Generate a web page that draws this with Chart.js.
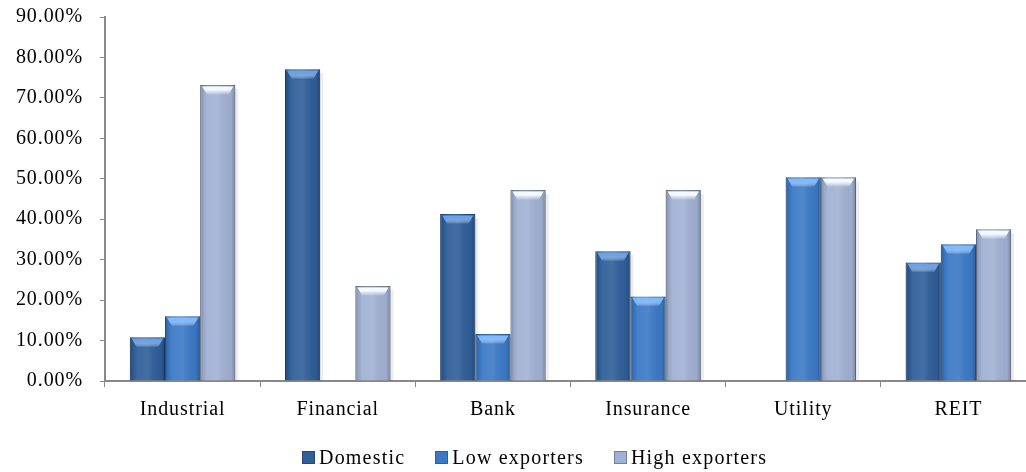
<!DOCTYPE html>
<html>
<head>
<meta charset="utf-8">
<script src="https://cdn.jsdelivr.net/npm/chart.js@4.4.0/dist/chart.umd.min.js"></script>
<style>
html, body { margin: 0; padding: 0; overflow: hidden; background: #fff; }
#wrap { position: relative; width: 1036px; height: 472px; }
#legend {
    position: absolute; left: 302px; top: 446px;
    display: flex; align-items: center;
    font-family: 'Liberation Serif', 'Times New Roman', serif;
    font-size: 20px; line-height: 22px; letter-spacing: 1.2px; color: #000;
}
#legend .item { display: flex; align-items: center; margin-right: 30px; }
#legend .box {
    width: 11px; height: 11px; margin-right: 4px;
    border: 1px solid; box-sizing: content-box;
}
</style>
</head>
<body>
<div id="wrap">
    <canvas id="exportChart"></canvas>
    <div id="legend"></div>
</div>
<script>
// values, in percent
const sectors = ['Industrial', 'Financial', 'Bank', 'Insurance', 'Utility', 'REIT'];
const domestic = [10.8, 77.1, 41.3, 32.1, null, 29.3];
const lowExporters = [16.0, null, 11.6, 20.9, 50.4, 33.8];
const highExporters = [73.2, 23.5, 47.2, 47.2, 50.4, 37.5];
const yMax = 90;
const yStep = 10;

const serif = "'Liberation Serif', 'Times New Roman', serif";

// wider letter spacing, like the original text
const spacingPlugin = {
    id: 'spacing',
    beforeLayout(chart) { chart.ctx.letterSpacing = '0.9px'; },
    beforeDraw(chart) { chart.ctx.letterSpacing = '0.9px'; }
};

function barBoxes(chart, cb) {
    chart.data.datasets.forEach((ds, i) => {
        chart.getDatasetMeta(i).data.forEach(bar => {
            const p = bar.getProps(['x', 'y', 'base', 'width'], true);
            if (!Number.isFinite(p.y) || p.base - p.y < 2) return;
            cb(ds, p.x - p.width / 2, p.x + p.width / 2, p.y, p.base);
        });
    });
}

// soft shadow behind, darker edges and a light bevel at the top of each bar
const bevelPlugin = {
    id: 'bevel',
    beforeDatasetsDraw(chart) {
        const ctx = chart.ctx;
        ctx.save();
        ctx.fillStyle = 'rgba(0,0,0,0.07)';
        barBoxes(chart, (ds, left, right, top, base) => {
            ctx.fillRect(left + 3, top + 4, right - left, base - top - 4);
        });
        ctx.restore();
    },
    afterDatasetsDraw(chart) {
        const ctx = chart.ctx;
        barBoxes(chart, (ds, left, right, top, base) => {
            const w = right - left;
            ctx.save();
            const g = ctx.createLinearGradient(left, 0, right, 0);
            g.addColorStop(0, 'rgba(0,0,0,0.22)');
            g.addColorStop(0.1, 'rgba(0,0,0,0.05)');
            g.addColorStop(0.2, 'rgba(255,255,255,0.06)');
            g.addColorStop(0.5, 'rgba(255,255,255,0.10)');
            g.addColorStop(0.88, 'rgba(0,0,0,0.03)');
            g.addColorStop(1, 'rgba(0,0,0,0.25)');
            ctx.fillStyle = g;
            ctx.fillRect(left, top, w, base - top);
            const v = ctx.createLinearGradient(0, top + 1, 0, top + 10);
            v.addColorStop(0, ds.bevel);
            v.addColorStop(0.4, ds.bevel);
            v.addColorStop(1, 'rgba(255,255,255,0)');
            ctx.beginPath();
            ctx.moveTo(left + 2, top + 1.5);
            ctx.lineTo(right - 2, top + 1.5);
            ctx.lineTo(right - 7, top + 10);
            ctx.lineTo(left + 7, top + 10);
            ctx.closePath();
            ctx.fillStyle = v;
            ctx.fill();
            ctx.restore();
        });
    }
};

const ctx = document.getElementById('exportChart').getContext('2d');
const chart = new Chart(ctx, {
    type: 'bar',
    data: {
        labels: sectors,
        datasets: [{
            label: 'Domestic',
            data: domestic,
            backgroundColor: '#2F5E99',
            borderColor: '#244A7C',
            bevel: 'rgba(110,165,235,0.95)'
        }, {
            label: 'Low exporters',
            data: lowExporters,
            backgroundColor: '#3B79C6',
            borderColor: '#2D5F9F',
            bevel: 'rgba(130,190,255,0.95)'
        }, {
            label: 'High exporters',
            data: highExporters,
            backgroundColor: '#A1B1D3',
            borderColor: '#75819B',
            bevel: 'rgba(245,250,255,1)'
        }]
    },
    options: {
        responsive: true,
        maintainAspectRatio: false,
        animation: false,
        layout: { padding: { top: 17, left: 12, right: 0, bottom: 30 } },
        datasets: {
            bar: {
                borderWidth: 1,
                categoryPercentage: 0.68,
                barPercentage: 1
            }
        },
        scales: {
            x: {
                grid: { drawOnChartArea: false, tickLength: 6, color: '#888888', lineWidth: 1 },
                border: { color: '#888888', width: 2 },
                ticks: { color: '#000', padding: 11, font: { family: serif, size: 20 } },
                afterFit(scale) { scale.height = 61; }
            },
            y: {
                min: 0,
                max: yMax,
                grid: { drawOnChartArea: false, tickLength: 5, color: '#888888', lineWidth: 1 },
                border: { color: '#888888', width: 2 },
                ticks: {
                    stepSize: yStep,
                    color: '#000',
                    padding: 17,
                    font: { family: serif, size: 20 },
                    callback: v => v.toFixed(2) + '%'
                },
                afterFit(scale) {
                    scale.width = 93;
                    // let layout.padding.top decide where the plot starts
                    scale.paddingTop = 0;
                    scale.paddingBottom = 0;
                }
            }
        },
        plugins: {
            legend: { display: false },
            tooltip: { enabled: false }
        }
    },
    plugins: [spacingPlugin, bevelPlugin]
});

// legend built from the chart's own legend items
const legendEl = document.getElementById('legend');
Chart.defaults.plugins.legend.labels.generateLabels(chart).forEach(item => {
    const el = document.createElement('span');
    el.className = 'item';
    const box = document.createElement('span');
    box.className = 'box';
    box.style.background = item.fillStyle;
    box.style.borderColor = item.strokeStyle;
    el.appendChild(box);
    el.appendChild(document.createTextNode(item.text));
    legendEl.appendChild(el);
});
</script>
</body>
</html>
